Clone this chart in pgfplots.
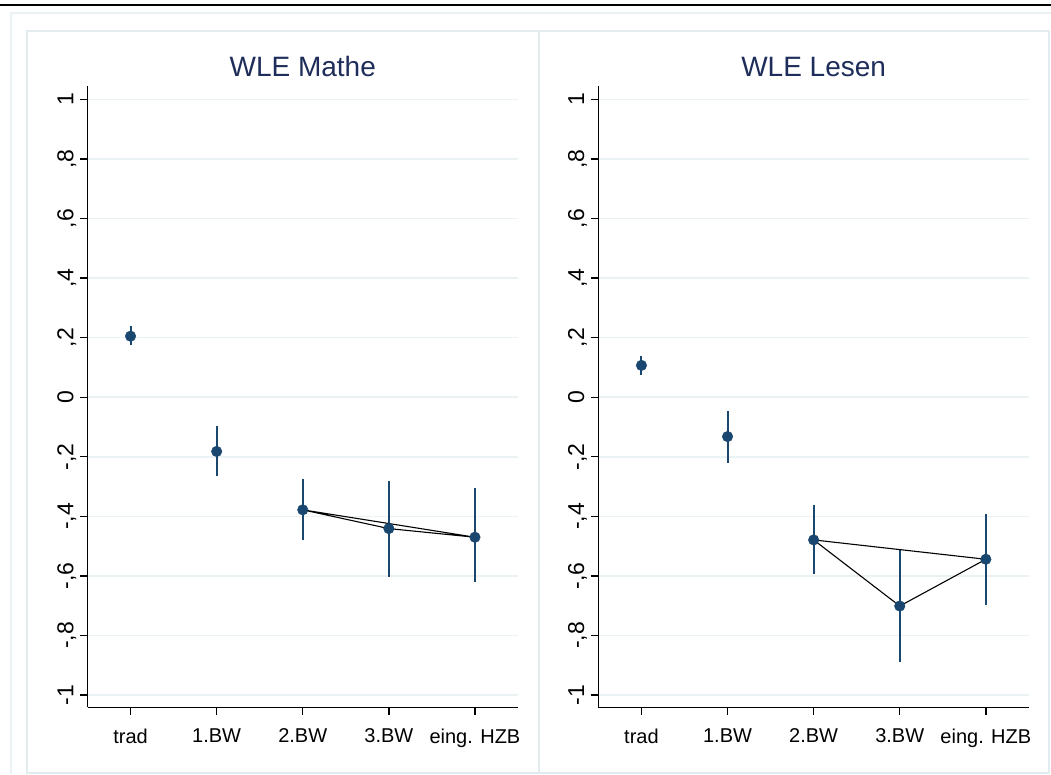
\documentclass[border=0pt]{standalone}
\usepackage{fontspec}
\setmainfont{Liberation Sans}
\usepackage{pgfplots}
\usepackage{pgfplotstable}
\pgfplotsset{compat=1.18}
\definecolor{snavy}{RGB}{26,71,111}
\definecolor{sgrid}{RGB}{234,242,243}
\definecolor{sframe}{RGB}{226,236,238}
\definecolor{stitle}{RGB}{30,45,90}

\pgfplotstableread{
x y lo hi
1 0.205 0.174 0.238
2 -0.182 -0.263 -0.098
3 -0.378 -0.480 -0.275
4 -0.441 -0.605 -0.280
5 -0.470 -0.620 -0.305
}\mathe

\pgfplotstableread{
x y lo hi
1 0.107 0.074 0.140
2 -0.132 -0.222 -0.045
3 -0.479 -0.595 -0.362
4 -0.701 -0.890 -0.508
5 -0.544 -0.699 -0.393
}\lesen

\pgfplotsset{
  statapanel/.style={
    anchor=south west,
    scale only axis, width=430.5pt, height=621pt,
    xmin=0.5, xmax=5.5, ymin=-1.041, ymax=1.044,
    axis lines*=left,
    axis line style={line width=1.3pt, black},
    xtick={1,2,3,4,5},
    xticklabels={trad,1.BW,2.BW,3.BW,eing. HZB},
    ytick={-1,-0.8,-0.6,-0.4,-0.2,0,0.2,0.4,0.6,0.8,1},
    yticklabels={-1,{-,8},{-,6},{-,4},{-,2},0,{,2},{,4},{,6},{,8},1},
    tick align=outside, major tick length=7.5pt,
    tick style={line width=1.3pt, black},
    ymajorgrids, grid style={line width=1.5pt, sgrid},
    xticklabel style={font=\fontsize{20}{24}\selectfont, anchor=north, inner sep=0pt, yshift=-14pt},
    yticklabel style={font=\fontsize{23}{27}\selectfont, xshift=-6.7pt, rotate=90, anchor=base, inner sep=0pt},
    title style={font=\fontsize{28}{32}\selectfont, color=stitle, anchor=base, at={(0.5,1)}, yshift=4pt},
    clip=false,
  },
  ciplot/.style={snavy, mark=*, mark size=5.3pt, only marks,
    mark options={fill=snavy, draw=snavy},
    error bars/.cd, y dir=both, y explicit,
    error bar style={line width=2pt, snavy}, error mark=none},
}

\begin{document}
\begin{tikzpicture}[x=1pt,y=1pt]
\useasboundingbox (0,0) rectangle (1051,774);
\draw[line width=2.5pt, black] (0,769) -- (1051,769);
\draw[line width=2.5pt, sgrid] (11,0) -- (11,761) -- (1051,761);
\draw[line width=1.5pt, sframe] (27,1) rectangle (539,743);
\draw[line width=1.5pt, sframe] (539,1) rectangle (1049,743);

\begin{axis}[statapanel, at={(87.5pt,66.7pt)}, title={WLE Mathe}]
\addplot[ciplot] table[x=x, y=y, y error plus expr=\thisrow{hi}-\thisrow{y}, y error minus expr=\thisrow{y}-\thisrow{lo}] {\mathe};
\addplot[black, line width=1.1pt, no marks] coordinates {(3,-0.378) (4,-0.441) (5,-0.470) (3,-0.378)};
\end{axis}

\begin{axis}[statapanel, at={(598.4pt,66.7pt)}, title={WLE Lesen}]
\addplot[ciplot] table[x=x, y=y, y error plus expr=\thisrow{hi}-\thisrow{y}, y error minus expr=\thisrow{y}-\thisrow{lo}] {\lesen};
\addplot[black, line width=1.1pt, no marks] coordinates {(3,-0.479) (4,-0.701) (5,-0.544) (3,-0.479)};
\end{axis}
\end{tikzpicture}
\end{document}
